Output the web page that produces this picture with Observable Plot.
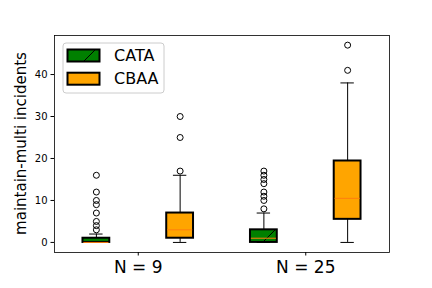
<!DOCTYPE html>
<html><head><meta charset="utf-8">
<script src="https://cdn.jsdelivr.net/npm/d3@7"></script>
<script src="https://cdn.jsdelivr.net/npm/@observablehq/plot@0.6"></script>
<style>body{margin:0;background:#fff}</style>
</head><body><div id="chart"></div>
<script>
const groups = ["N = 9", "N = 25"];
const methods = ["CATA", "CBAA"];
const colors = ["green", "orange"];
// per box: [N9-CATA, N9-CBAA, N25-CATA, N25-CBAA]
const boxGroup = [0, 0, 1, 1];
const boxMethod = [0, 1, 0, 1];
const whiskerLo = [0, 0, 0, 0];
const q1 = [0, 1, 0, 5.5];
const median = [0, 3, 1, 10.5];
const q3 = [1, 7, 3, 19.4];
const whiskerHi = [2, 16, 7, 38];
const outliers = [
  [3, 4, 5, 7, 9, 10, 12, 16],
  [17, 25, 30],
  [8, 10, 11, 12, 14, 15, 16, 17],
  [41, 47]
];
const yTicks = [0, 10, 20, 30, 40];
const yLabel = "maintain-multi incidents";

const offset = 0.25, halfW = 0.08, capW = 0.04;
const boxes = q1.map((_, i) => ({
  pos: boxGroup[i] + 1 + (boxMethod[i] === 0 ? -offset : offset),
  method: methods[boxMethod[i]],
  lo: whiskerLo[i], q1: q1[i], med: median[i], q3: q3[i], hi: whiskerHi[i]
}));
const fliers = boxes.flatMap((b, i) => outliers[i].map(v => ({pos: b.pos, v})));

const W = 432, H = 288;
const plot = Plot.plot({
  width: W, height: H,
  marginLeft: 54, marginRight: 43, marginTop: 35, marginBottom: 36,
  style: {fontFamily: "DejaVu Sans", background: "white", color: "black"},
  x: {domain: [0.5, 2.5]},
  y: {domain: [-2.4, 49.3]},
  color: {domain: methods, range: colors},
  marks: [
    Plot.ruleX(boxes, {x: "pos", y1: "lo", y2: "q1", stroke: "black", strokeWidth: 1}),
    Plot.ruleX(boxes, {x: "pos", y1: "q3", y2: "hi", stroke: "black", strokeWidth: 1}),
    Plot.ruleY(boxes, {y: "hi", x1: d => d.pos - capW, x2: d => d.pos + capW, stroke: "black", strokeWidth: 1}),
    Plot.ruleY(boxes, {y: "lo", x1: d => d.pos - capW, x2: d => d.pos + capW, stroke: "black", strokeWidth: 1}),
    Plot.rect(boxes, {x1: d => d.pos - halfW, x2: d => d.pos + halfW, y1: "q1", y2: "q3", fill: "method", stroke: "black", strokeWidth: 2}),
    Plot.rect(boxes.filter(d => d.method === "CATA"), {x1: d => d.pos - halfW, x2: d => d.pos + halfW, y1: "q1", y2: "q3", fill: "url(#hatch)", stroke: "none"}),
    Plot.ruleY(boxes, {y: "med", x1: d => d.pos - halfW + 0.005, x2: d => d.pos + halfW - 0.005, stroke: "#ff7f0e", strokeWidth: 1}),
    Plot.dot(fliers, {x: "pos", y: "v", r: 3, stroke: "black", strokeWidth: 1, fill: "none"}),
    Plot.axisY({ticks: yTicks, tickSize: 3.5, tickPadding: 3.5, fontSize: 10, label: null}),
    Plot.axisX({ticks: [1, 2], tickFormat: d => groups[d - 1], tickSize: 3.5, tickPadding: 4.5, fontSize: 17, label: null}),
    Plot.frame({stroke: "black", strokeWidth: 0.8})
  ]
});
const svg = d3.select(plot);
const defs = svg.insert("defs", ":first-child");
const pat = defs.append("pattern").attr("id", "hatch").attr("patternUnits", "userSpaceOnUse")
  .attr("width", 72).attr("height", 72);
pat.append("path").attr("d", "M-2,75 L75,-2 M71,74 L74,71 M-2,3 L3,-2")
  .attr("stroke", "black").attr("stroke-width", 1).attr("fill", "none");

// y label
svg.append("text").attr("transform", `translate(21,${(35 + 252) / 2}) rotate(-90)`)
  .attr("text-anchor", "middle").attr("dominant-baseline", "middle")
  .attr("font-family", "DejaVu Sans").attr("font-size", 15).attr("fill", "black").text(yLabel);

// legend
const lg = svg.append("g");
lg.append("rect").attr("x", 63).attr("y", 43).attr("width", 101).attr("height", 50).attr("rx", 3)
  .attr("fill", "white").attr("fill-opacity", 0.8).attr("stroke", "#cccccc").attr("stroke-width", 1);
methods.forEach((m, i) => {
  const y = 49.5 + i * 23.2;
  lg.append("rect").attr("x", 67.5).attr("y", y).attr("width", 32).attr("height", 12)
    .attr("fill", colors[i]).attr("stroke", "black").attr("stroke-width", 2);
  if (i === 0) lg.append("rect").attr("x", 67.5).attr("y", y).attr("width", 32).attr("height", 12)
    .attr("fill", "url(#hatch)");
  lg.append("text").attr("x", 114).attr("y", y + 6).attr("dominant-baseline", "central")
    .attr("text-anchor", "start")
    .attr("font-family", "DejaVu Sans").attr("font-size", 16).attr("fill", "black").text(m);
});
document.getElementById("chart").appendChild(plot);
</script></body></html>
